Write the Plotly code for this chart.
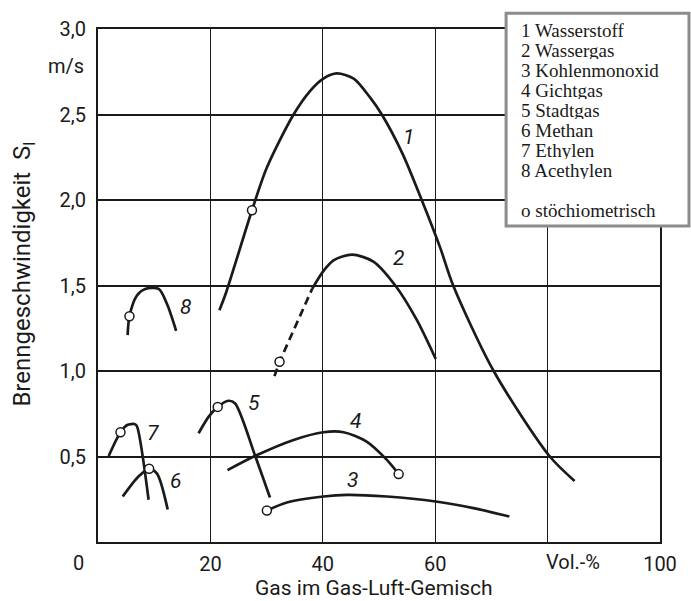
import plotly.graph_objects as go

# ---- data ----
x1 = [21.6, 22.7, 27.4, 30.05, 34.8, 37.8, 40.1, 42.5, 45.5, 48.4, 50.5, 54.2, 57.6, 60.9, 63.2, 70.4, 80.4, 84.8]
y1 = [1.355, 1.45, 1.94, 2.19, 2.50, 2.64, 2.71, 2.74, 2.71, 2.60, 2.50, 2.27, 2.00, 1.72, 1.50, 1.00, 0.50, 0.357]

x2_dash = [31.4, 32.3, 38.1]
y2_dash = [0.97, 1.054, 1.48]
x2 = [38.1, 40.0, 41.9, 45.2, 49.0, 52.9, 56.7, 60.1]
y2 = [1.48, 1.58, 1.647, 1.68, 1.64, 1.50, 1.30, 1.07]

x3 = [30.05, 33.6, 40.1, 44.3, 51.4, 60.1, 66.8, 73.2]
y3 = [0.184, 0.231, 0.266, 0.276, 0.266, 0.237, 0.198, 0.149]

x4 = [23.05, 28.0, 34.8, 40.1, 43.7, 47.8, 51.4, 53.5]
y4 = [0.42, 0.504, 0.597, 0.642, 0.642, 0.587, 0.48, 0.397]

x5 = [17.9, 19.7, 21.3, 23.2, 24.4, 28.0, 30.6]
y5 = [0.636, 0.733, 0.79, 0.826, 0.81, 0.50, 0.26]

x6 = [4.4, 7.2, 9.1, 10.5, 12.4]
y6 = [0.266, 0.383, 0.428, 0.40, 0.19]

x7 = [1.9, 4.0, 5.2, 6.5, 6.9, 9.0]
y7 = [0.503, 0.642, 0.684, 0.69, 0.679, 0.247]

x8 = [5.27, 5.6, 6.9, 8.4, 10.8, 12.3, 13.9]
y8 = [1.21, 1.32, 1.44, 1.48, 1.48, 1.39, 1.235]

stoich_x = [27.4, 32.3, 30.05, 53.5, 21.3, 9.1, 4.0, 5.6]
stoich_y = [1.94, 1.054, 0.184, 0.397, 0.79, 0.428, 0.642, 1.32]

curve_labels = ["1", "2", "3", "4", "5", "6", "7", "8"]
label_x = [55.2, 53.5, 45.2, 45.9, 27.7, 13.75, 9.7, 15.5]
label_y = [2.37, 1.66, 0.36, 0.71, 0.81, 0.354, 0.636, 1.375]

legend_lines = ["1 Wasserstoff", "2 Wassergas", "3 Kohlenmonoxid", "4 Gichtgas",
                "5 Stadtgas", "6 Methan", "7 Ethylen", "8 Acethylen", "o stöchiometrisch"]

y_tickvals = [0.5, 1.0, 1.5, 2.0, 2.5, 3.0]
y_ticktext = ["0,5", "1,0", "1,5", "2,0", "2,5", "3,0"]
x_tickvals = [20, 40, 60, 100]
x_ticktext = ["20", "40", "60", "100"]
x_extra_grid = [80]

# ---- styling ----
INK = "#1a1a1a"
SANS = "Roboto, DejaVu Sans, sans-serif"
SERIF = "Liberation Serif, serif"
LW = 2.7

fig = go.Figure()

solid_curves = [(x1, y1), (x2, y2), (x3, y3), (x4, y4), (x5, y5), (x6, y6), (x7, y7), (x8, y8)]
for cx, cy in solid_curves:
    fig.add_trace(go.Scatter(x=cx, y=cy, mode="lines",
                             line=dict(color=INK, width=LW, shape="spline", smoothing=0.8),
                             showlegend=False, hoverinfo="skip"))

fig.add_trace(go.Scatter(x=x2_dash, y=y2_dash, mode="lines",
                         line=dict(color=INK, width=LW, dash="8px,5px"),
                         showlegend=False, hoverinfo="skip"))

fig.add_trace(go.Scatter(x=stoich_x, y=stoich_y, mode="markers",
                         marker=dict(symbol="circle", size=9, color="white",
                                     line=dict(color=INK, width=1.5)),
                         showlegend=False, hoverinfo="skip"))

# curve number labels
for t, lx, ly in zip(curve_labels, label_x, label_y):
    fig.add_annotation(x=lx, y=ly, xref="x", yref="y", text="<i>" + t + "</i>",
                       showarrow=False, font=dict(family=SANS, size=21, color=INK))

# axis extras
fig.add_annotation(x=-0.0208, y=2.785, xref="paper", yref="y", text="m/s",
                   xanchor="right", yanchor="middle", showarrow=False,
                   font=dict(family=SANS, size=20, color=INK))
fig.add_annotation(x=-0.035, y=-0.041, xref="paper", yref="paper", text="0",
                   xanchor="center", yanchor="middle", showarrow=False,
                   font=dict(family=SANS, size=20, color=INK))
fig.add_annotation(x=84.5, y=-0.039, xref="x", yref="paper", text="Vol.-%",
                   xanchor="center", yanchor="middle", showarrow=False,
                   font=dict(family=SANS, size=20, color=INK))
fig.add_annotation(x=0.491, y=-0.0891, xref="paper", yref="paper",
                   text="Gas im Gas-Luft-Gemisch", borderpad=0,
                   xanchor="center", yanchor="middle", showarrow=False,
                   font=dict(family=SANS, size=21, color=INK))
fig.add_annotation(x=-0.1328, y=0.522, xref="paper", yref="paper",
                   text="Brenngeschwindigkeit  S<sub>l</sub>", textangle=-90,
                   xanchor="center", yanchor="middle", showarrow=False,
                   font=dict(family=SANS, size=24, color=INK))

# legend box (text block in upper right)
PX_L, PX_R, PX_T, PX_B = 97.7, 660.0, 28.7, 542.3
def px_x(p):
    return (p - PX_L) / (PX_R - PX_L)
def px_y(p):
    return (PX_B - p) / (PX_B - PX_T)

fig.add_shape(type="rect", xref="paper", yref="paper",
              x0=px_x(506), x1=px_x(689), y0=px_y(226), y1=px_y(13),
              line=dict(color="#8c8c8c", width=3), fillcolor="white", layer="above")
line_centers = [29.3 + 20.1 * i for i in range(8)] + [209.6]
for txt, cy in zip(legend_lines, line_centers):
    fig.add_annotation(x=px_x(520), y=px_y(cy), xref="paper", yref="paper", text=txt,
                       xanchor="left", yanchor="middle", showarrow=False,
                       height=18, valign="middle", borderpad=0,
                       font=dict(family=SERIF, size=19, color=INK))

fig.update_layout(
    width=691, height=601,
    margin=dict(l=98, r=31, t=29, b=59),
    paper_bgcolor="white", plot_bgcolor="white",
    showlegend=False,
    xaxis=dict(range=[0, 100], tickvals=x_tickvals, ticktext=x_ticktext,
               showgrid=True, gridcolor=INK, gridwidth=1, zeroline=False,
               minor=dict(tickvals=x_extra_grid, showgrid=True, gridcolor=INK,
                          gridwidth=1, ticks=""),
               showline=True, linecolor=INK, linewidth=2, mirror=True,
               ticks="", ticklabelstandoff=3,
               tickfont=dict(family=SANS, size=20, color=INK), fixedrange=True),
    yaxis=dict(range=[0, 3], tickvals=y_tickvals, ticktext=y_ticktext,
               showgrid=True, gridcolor=INK, gridwidth=2, zeroline=False,
               showline=True, linecolor=INK, linewidth=2, mirror=True,
               ticks="", ticklabelstandoff=6,
               tickfont=dict(family=SANS, size=20, color=INK), fixedrange=True),
)

fig.write_html("out.html")
